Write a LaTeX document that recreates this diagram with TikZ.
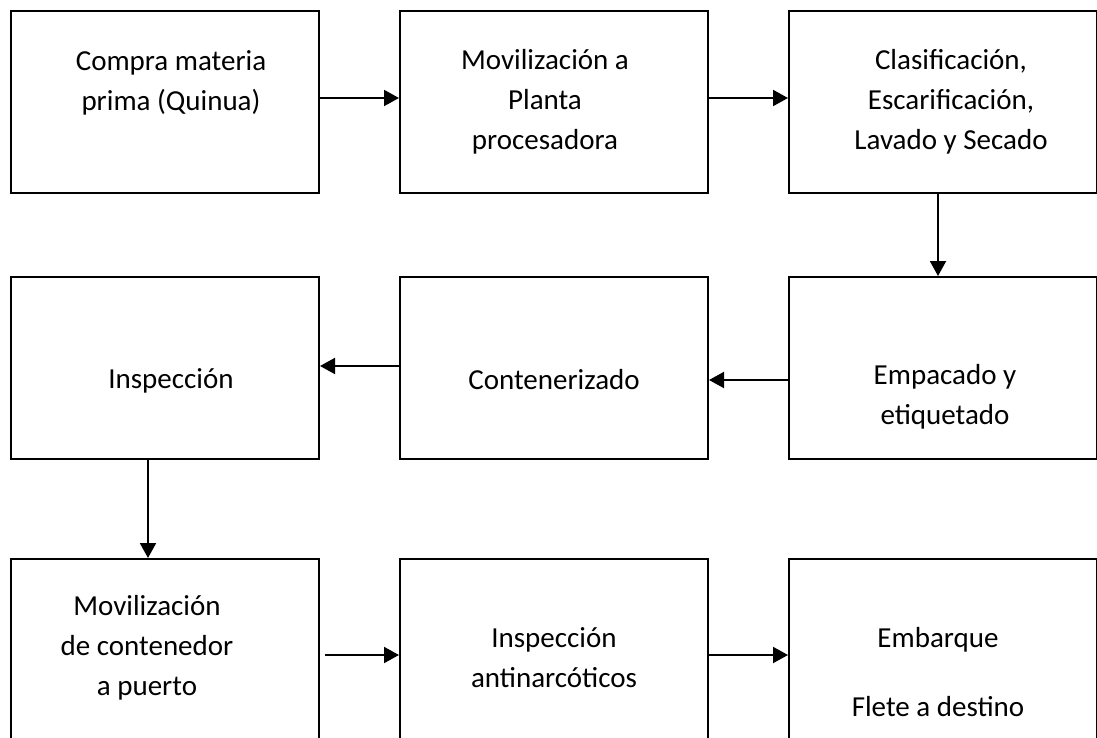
\documentclass[tikz,border=0pt]{standalone}
\usepackage{fontspec}
\setmainfont{Carlito}
\usetikzlibrary{arrows.meta}

\tikzset{
    caja/.style={draw, line width=2pt, minimum width=308pt, minimum height=182pt, inner sep=0pt},
    texto/.style={font=\fontsize{29}{40}\selectfont, align=center, inner sep=0pt},
    flecha/.style={line width=2pt, -{Triangle[length=15pt,width=16pt]}}
}

\begin{document}
\begin{tikzpicture}[x=1pt, y=-1pt]
    \useasboundingbox (0,0) rectangle (1097,738);
    \clip (0,0) rectangle (1097,738);
    \node[caja] (compra) at (165,102) {};
    \node[caja] (movil) at (554,102) {};
    \node[caja] (clasif) at (943,102) {};
    \node[caja] (inspec) at (165,368) {};
    \node[caja] (conten) at (554,368) {};
    \node[caja] (empaq) at (943,368) {};
    \node[caja] (movcont) at (165,650) {};
    \node[caja] (antinar) at (554,650) {};
    \node[caja] (embarq) at (943,650) {};

    \node[texto] (compra-t) at (171,83) {Compra materia\\prima (Quinua)};
    \node[texto] (movil-t) at (545,102) {Movilización a\\Planta\\procesadora};
    \node[texto] (clasif-t) at (951,102) {Clasificación,\\Escarificación,\\Lavado y Secado};
    \node[texto] (inspec-t) at (171,381) {Inspección};
    \node[texto] (conten-t) at (554,380) {Contenerizado};
    \node[texto] (empaq-t) at (945,397) {Empacado y\\etiquetado};
    \node[texto] (movcont-t) at (147,648) {Movilización\\de contenedor\\a puerto};
    \node[texto] (antinar-t) at (554,658) {Inspección\\antinarcóticos};
    \node[texto] (embarq-t) at (938,672) {Embarque\\[29pt]Flete a destino};

    \draw[flecha] ([yshift=4pt]compra.east) -- ([yshift=4pt]movil.west);
    \draw[flecha] ([yshift=4pt]movil.east) -- ([yshift=4pt]clasif.west);
    \draw[flecha] ([xshift=-5pt]clasif.south) -- ([xshift=-5pt]empaq.north);
    \draw[flecha] ([yshift=-12pt]empaq.west) -- ([yshift=-12pt]conten.east);
    \draw[flecha] ([yshift=2pt]conten.west) -- ([yshift=2pt]inspec.east);
    \draw[flecha] ([xshift=-17pt]inspec.south) -- ([xshift=-17pt]movcont.north);
    \draw[flecha] ([xshift=5pt,yshift=-5pt]movcont.east) -- ([yshift=-5pt]antinar.west);
    \draw[flecha] ([yshift=-5pt]antinar.east) -- ([yshift=-5pt]embarq.west);
\end{tikzpicture}
\end{document}
